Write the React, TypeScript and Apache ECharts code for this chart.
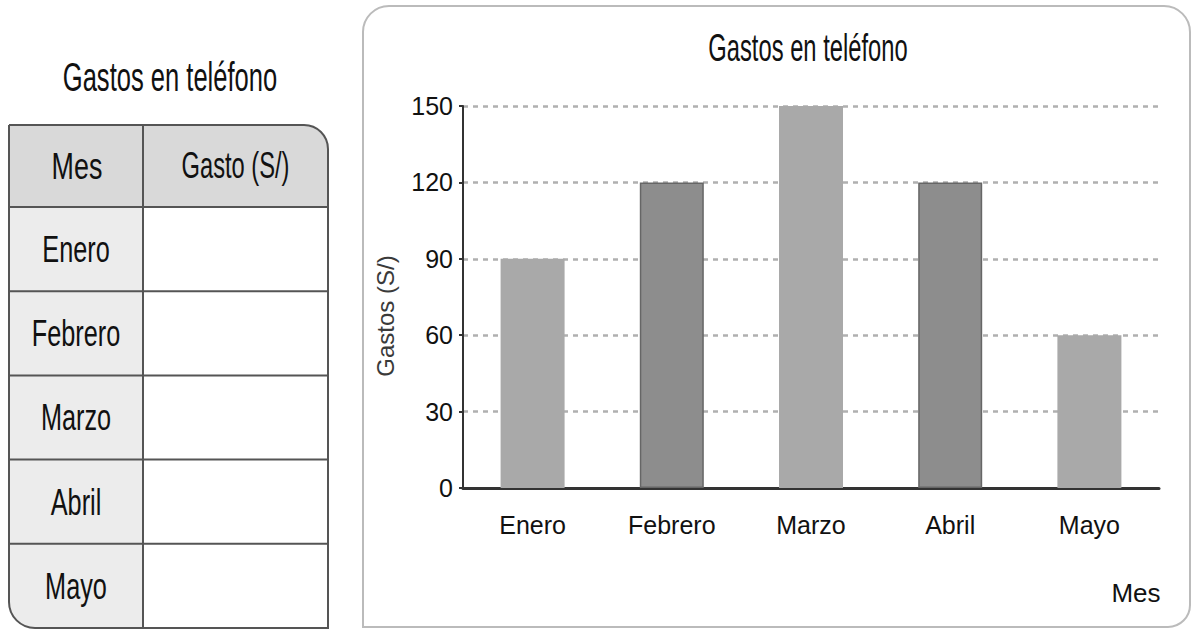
import React, { useEffect, useRef } from "react";
import * as echarts from "echarts";

// ---- data ----
const months = ["Enero", "Febrero", "Marzo", "Abril", "Mayo"];
const gastos = [90, 120, 150, 120, 60];
const tableHeader = ["Mes", "Gasto (S/)"];
const tableTitle = "Gastos en teléfono";
const chartTitle = "Gastos en teléfono";
const yAxisName = "Gastos (S/)";
const xAxisName = "Mes";
const yMin = 0;
const yMax = 150;
const yInterval = 30;

// ---- styles ----
const FONT = '"Liberation Sans", Arial, sans-serif';
const LIGHT_BAR = "#a9a9a9";
const DARK_BAR = "#8d8d8d";
const DARK_BORDER = "#666666";
const TEXT = "#111111";

function condensedText(text: string, x: number, y: number, size: number, sx: number, sy = 1.15) {
  return {
    type: "text",
    x,
    y,
    scaleX: sx,
    scaleY: sy,
    style: { text, fontFamily: FONT, fontSize: size, fill: TEXT, align: "center", verticalAlign: "middle" },
  };
}

function buildTable(): any[] {
  const x0 = 9, x1 = 143, x2 = 328;
  const y0 = 125, headH = 82, y1 = y0 + headH, y2 = 628;
  const rowH = (y2 - y1) / months.length;
  const els: any[] = [];
  els.push({ type: "rect", shape: { x: x0, y: y0, width: x1 - x0, height: headH }, style: { fill: "#d9d9d9" } });
  els.push({ type: "rect", shape: { x: x1, y: y0, width: x2 - x1, height: headH, r: [0, 24, 0, 0] }, style: { fill: "#d9d9d9" } });
  months.forEach((m, i) => {
    const last = i === months.length - 1;
    els.push({
      type: "rect",
      shape: { x: x0, y: y1 + i * rowH, width: x1 - x0, height: rowH, r: last ? [0, 0, 0, 26] : 0 },
      style: { fill: "#ececec" },
    });
  });
  els.push({
    type: "rect",
    shape: { x: x0, y: y0, width: x2 - x0, height: y2 - y0, r: [0, 24, 0, 26] },
    style: { fill: "none", stroke: "#555", lineWidth: 2 },
  });
  els.push({ type: "line", shape: { x1: x1, y1: y0, x2: x1, y2: y2 }, style: { stroke: "#555", lineWidth: 2 } });
  for (let i = 0; i < months.length; i++) {
    const y = y1 + i * rowH;
    els.push({ type: "line", shape: { x1: x0, y1: y, x2: x2, y2: y }, style: { stroke: "#555", lineWidth: 2 } });
  }
  els.push(condensedText(tableTitle, 170, 77, 35, 0.73));
  els.push(condensedText(tableHeader[0], (x0 + x1) / 2 + 1, y0 + headH / 2, 32, 0.84));
  els.push(condensedText(tableHeader[1], (x1 + x2) / 2, y0 + headH / 2, 32, 0.74));
  months.forEach((m, i) => {
    els.push(condensedText(m, (x0 + x1) / 2, y1 + i * rowH + rowH / 2, 32, 0.79));
  });
  return els;
}

export default function App() {
  const ref = useRef<HTMLDivElement>(null);
  useEffect(() => {
    document.body.style.margin = "0";
    const chart = echarts.init(ref.current!, undefined, { renderer: "svg" });
    const barData = gastos.map((v, i) => ({
      value: v,
      itemStyle:
        i % 2 === 1
          ? { color: DARK_BAR, borderColor: DARK_BORDER, borderWidth: 1.5 }
          : { color: LIGHT_BAR },
    }));
    const option: any = {
      animation: false,
      backgroundColor: "#ffffff",
      grid: { left: 463, right: 32, top: 106, bottom: 142, containLabel: false },
      xAxis: {
        type: "category",
        data: months,
        name: xAxisName,
        nameLocation: "end",
        nameGap: -23,
        nameTextStyle: { fontFamily: FONT, fontSize: 26, color: TEXT, align: "center", verticalAlign: "top", padding: [92, 0, 0, 0] },
        axisLine: { lineStyle: { color: "#333", width: 3 } },
        axisTick: { show: false },
        axisLabel: { fontFamily: FONT, fontSize: 25, color: TEXT, margin: 24 },
      },
      yAxis: {
        type: "value",
        min: yMin,
        max: yMax,
        interval: yInterval,
        name: yAxisName,
        nameLocation: "middle",
        nameRotate: 90,
        nameGap: 66,
        nameTextStyle: { fontFamily: FONT, fontSize: 24, color: "#3a3a3a", padding: [0, 38, 0, 0] },
        axisLine: { show: true, lineStyle: { color: "#333", width: 2 } },
        axisTick: { show: true, length: 4, lineStyle: { color: "#333", width: 2 } },
        axisLabel: { fontFamily: FONT, fontSize: 25, color: TEXT, margin: 10 },
        splitLine: { show: true, lineStyle: { color: "#b0b0b0", width: 2.5, type: [5, 5] } },
      },
      series: [
        {
          type: "bar",
          data: barData,
          barWidth: 64,
        },
      ],
      graphic: [
        {
          type: "rect",
          z: -1,
          shape: { x: 363, y: 6, width: 827, height: 621, r: [26, 26, 22, 0] },
          style: { fill: "none", stroke: "#bbbbbb", lineWidth: 2 },
        },
        condensedText(chartTitle, 808, 48, 33, 0.72),
        ...buildTable(),
      ],
    };
    chart.setOption(option);
    return () => chart.dispose();
  }, []);
  return <div ref={ref} style={{ width: 1191, height: 630 }} />;
}
